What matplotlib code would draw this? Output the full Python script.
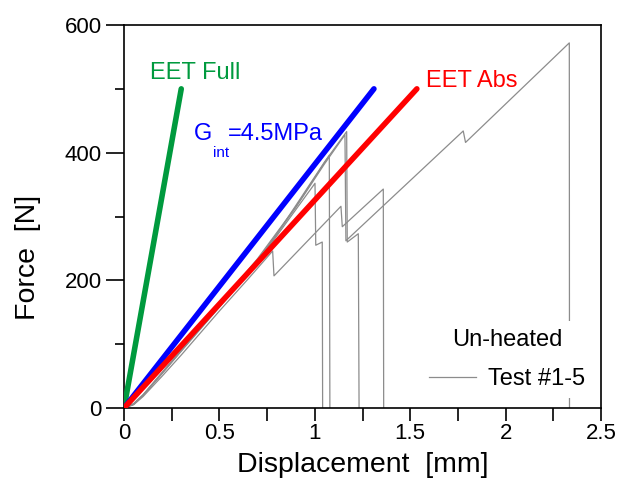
import matplotlib
matplotlib.use("Agg")
import matplotlib.pyplot as plt
from matplotlib.ticker import MultipleLocator
from matplotlib.lines import Line2D

plt.rcParams.update({"font.family": ["Liberation Sans", "DejaVu Sans"],
                     "font.size": 16,
                     "xtick.direction": "out", "ytick.direction": "out"})

# ── EET predictions (straight lines from origin) ──────────────────────────────
EET_FULL_X = [0.0, 0.30]
EET_FULL_Y = [0.0, 500.0]
GINT_X = [0.0, 1.31]
GINT_Y = [0.0, 500.0]
EET_ABS_X = [0.0, 1.535]
EET_ABS_Y = [0.0, 500.0]

# ── Un-heated test curves #1-5 ────────────────────────────────────────────────
T1_X = [0, 0.05, 0.10, 0.20, 0.30, 0.50, 0.70, 0.85, 1.001, 1.005, 1.039, 1.041]
T1_Y = [0, 6, 20, 54, 89, 158, 228, 290, 352, 255, 260, 0]

T2_X = [0, 0.05, 0.10, 0.20, 0.30, 0.50, 0.70, 0.90, 1.076, 1.079]
T2_Y = [0, 7, 21, 56, 91, 162, 234, 315, 396, 0]

T3_X = [0, 0.05, 0.10, 0.20, 0.30, 0.40, 0.50, 0.60, 0.71, 0.80, 0.92, 1.05, 1.167, 1.170, 1.228, 1.232]
T3_Y = [0, 6, 20, 55, 90, 125, 160, 196, 234, 272, 326, 385, 433, 260, 273, 0]

T4_X = [0, 0.05, 0.10, 0.20, 0.30, 0.50, 0.65, 0.779, 0.786, 1.137, 1.144, 1.359, 1.361]
T4_Y = [0, 5, 18, 50, 83, 152, 202, 246, 207, 316, 284, 343, 0]

T5_X = [0, 0.05, 0.10, 0.20, 0.30, 0.50, 0.70, 0.90, 1.05, 1.158, 1.163, 1.778, 1.790, 2.334, 2.335]
T5_Y = [0, 6, 20, 55, 90, 159, 231, 314, 382, 428, 262, 434, 416, 572, 0]

TESTS = [(T1_X, T1_Y), (T2_X, T2_Y), (T3_X, T3_Y), (T4_X, T4_Y), (T5_X, T5_Y)]

GREEN = "#009A3E"; BLUE = "#0000FF"; RED = "#FF0000"; GREY = "#8C8C8C"

fig = plt.figure(figsize=(6.22, 4.96), dpi=100)
ax = fig.add_axes([0.1994, 0.1774, 0.7668, 0.7722])

for tx, ty in TESTS:
    ax.plot(tx, ty, color=GREY, lw=0.9, zorder=2)

ax.plot(EET_FULL_X, EET_FULL_Y, color=GREEN, lw=4, solid_capstyle="round", zorder=3)
ax.plot(GINT_X, GINT_Y, color=BLUE, lw=4, solid_capstyle="round", zorder=3)
ax.plot(EET_ABS_X, EET_ABS_Y, color=RED, lw=4, solid_capstyle="round", zorder=3)

ax.text(0.136, 515, "EET Full", color=GREEN, fontsize=17)
ax.text(1.581, 503, "EET Abs", color=RED, fontsize=17)
ax.text(0.367, 420, "G", color=BLUE, fontsize=17)
ax.text(0.466, 393, "int", color=BLUE, fontsize=11)
ax.text(0.545, 420, "=4.5MPa", color=BLUE, fontsize=17)

# legend sits under the spines but over the grey curves (hides the drop at 2.33)
handle = Line2D([], [], color=GREY, lw=0.9)
leg = ax.legend([handle], ["Test #1-5"], title="Un-heated", loc="lower right",
                bbox_to_anchor=(1.009, -0.005), fontsize=17, title_fontsize=17,
                frameon=True, fancybox=False, framealpha=1, facecolor="white",
                edgecolor="none", handlelength=2.0, handletextpad=0.5,
                borderpad=0.35, labelspacing=0.3, alignment="center")
leg._legend_box.sep = 12   # more room between title and entry
leg.set_zorder(2.4)

ax.set_xlim(0, 2.5)
ax.set_ylim(0, 600)
ax.xaxis.set_minor_locator(MultipleLocator(0.25))
ax.yaxis.set_major_locator(MultipleLocator(200))
ax.yaxis.set_minor_locator(MultipleLocator(100))
ax.set_xticks([0, 0.5, 1, 1.5, 2, 2.5])
ax.set_xticklabels(["0", "0.5", "1", "1.5", "2", "2.5"])
ax.tick_params(which="both", width=1.2, labelsize=16)
ax.tick_params(axis="x", which="major", length=9, pad=2)
ax.tick_params(axis="x", which="minor", length=9)
ax.tick_params(axis="y", which="major", length=13, pad=3)
ax.tick_params(axis="y", which="minor", length=6.5)
for s in ax.spines.values():
    s.set_linewidth(1.2)

ax.set_xlabel("Displacement  [mm]", fontsize=20.5)
ax.set_ylabel("Force  [N]", fontsize=20.5)
ax.xaxis.set_label_coords(0.5, -0.115)
ax.yaxis.set_label_coords(-0.174, 0.394)

fig.savefig("out.png", dpi=100)
